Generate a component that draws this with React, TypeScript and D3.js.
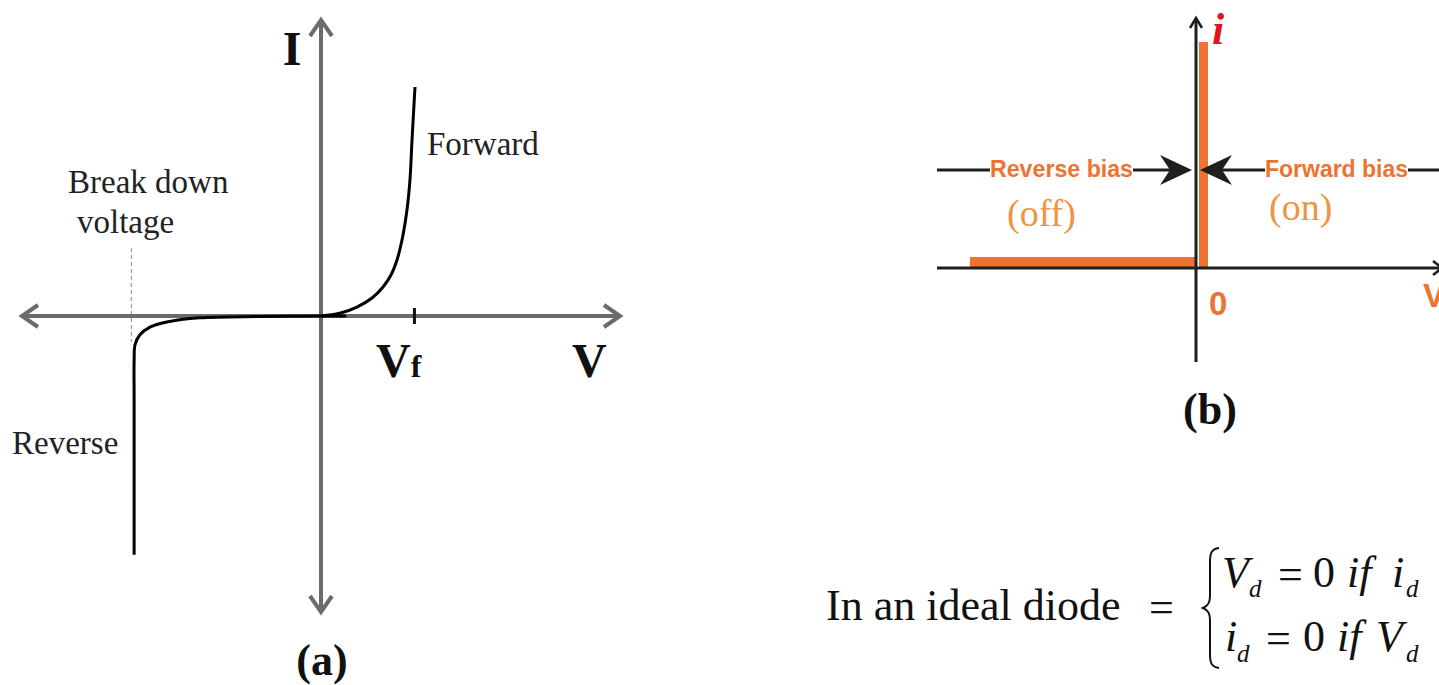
import React from "react";
import * as d3 from "d3";

// (a) practical diode I–V curve, in units of the forward voltage Vf
const FWD_V = [0, 0.2, 0.385, 0.546, 0.664, 0.749, 0.813, 0.867, 0.92, 0.952, 0.974, 1.006];
const FWD_I = [0, 0.03, 0.097, 0.195, 0.314, 0.443, 0.605, 0.822, 1.146, 1.47, 1.9, 2.476];
const REV_V = [0.27, 0, -0.65, -1.3, -1.65, -1.83, -1.94, -1.99, -2.0, -2.0, -2.0];
const REV_I = [0, 0, -0.005, -0.02, -0.065, -0.12, -0.205, -0.31, -0.48, -0.9, -2.58];
const VF = 1.0;
const BREAKDOWN_V = -2.03;

// (b) ideal diode characteristic
const IDEAL_OFF_V = [-0.873, 0];
const IDEAL_ON_I = [0, 1];

const W = 1439;
const H = 685;

const SERIF = "'Liberation Serif', 'Times New Roman', serif";
const SANS = "'Liberation Sans', Arial, sans-serif";
const GREY = "#6b6b6b";
const INK = "#1e1e1e";
const ORANGE = "#ec7332";
const ORANGE_LIGHT = "#ee9445";

function Chevron({ x, y, angle, color, w }: { x: number; y: number; angle: number; color: string; w: number }) {
  // open arrowhead pointing along `angle` (degrees), tip at (x, y)
  return (
    <path
      d="M -16 -11 L 0 0 L -16 11"
      transform={`translate(${x},${y}) rotate(${angle})`}
      fill="none"
      stroke={color}
      strokeWidth={w}
      strokeLinejoin="miter"
    />
  );
}

export default function App() {
  // panel (a) scales
  const xa = d3.scaleLinear().domain([-3.2, 3.2]).range([22, 620]);
  const ya = d3.scaleLinear().domain([-3.2, 3.2]).range([612, 20]);
  const line = d3
    .line<[number, number]>()
    .x((d) => xa(d[0]))
    .y((d) => ya(d[1]))
    .curve(d3.curveCatmullRom.alpha(0.5));
  const fwd = FWD_V.map((v, i) => [v, FWD_I[i]] as [number, number]);
  const rev = REV_V.map((v, i) => [v, REV_I[i]] as [number, number]);

  // panel (b) scales
  const xb = d3.scaleLinear().domain([-1, 0, 1]).range([937, 1196, 1455]);
  const yb = d3.scaleLinear().domain([-0.416, 0, 1]).range([362, 268, 42]);

  const ox = xa(0);
  const oy = ya(0);
  const bx = xb(0);
  const by = yb(0);

  return (
    <svg
      width={W}
      height={H}
      viewBox={`0 0 ${W} ${H}`}
      style={{ position: "absolute", left: 0, top: 0, background: "#fff" }}
    >
      <rect width={W} height={H} fill="#fff" />

      {/* ---------- (a) ---------- */}
      <line x1={xa(BREAKDOWN_V)} x2={xa(BREAKDOWN_V)} y1={248} y2={ya(-0.28)} stroke="#8a8a8a" strokeWidth={1} strokeDasharray="4 3" />
      <line x1={xa(-3.2) + 2} x2={xa(3.2) - 2} y1={oy} y2={oy} stroke={GREY} strokeWidth={4} />
      <line x1={ox} x2={ox} y1={ya(3.2) + 2} y2={ya(-3.2) - 2} stroke={GREY} strokeWidth={4} />
      <Chevron x={xa(3.2)} y={oy} angle={0} color={GREY} w={4} />
      <Chevron x={xa(-3.2)} y={oy} angle={180} color={GREY} w={4} />
      <Chevron x={ox} y={ya(3.2)} angle={-90} color={GREY} w={4} />
      <Chevron x={ox} y={ya(-3.2)} angle={90} color={GREY} w={4} />
      <line x1={xa(VF)} x2={xa(VF)} y1={oy - 8} y2={oy + 8} stroke="#111" strokeWidth={3} />

      <path d={line(rev) || ""} fill="none" stroke="#000" strokeWidth={3} />
      <path d={line(fwd) || ""} fill="none" stroke="#000" strokeWidth={3} />

      <text x={292} y={65} fontFamily={SERIF} fontWeight="bold" fontSize={48} textAnchor="middle" fill="#111">I</text>
      <text x={427} y={155} fontFamily={SERIF} fontSize={33} fill="#222">Forward</text>
      <text x={68} y={193} fontFamily={SERIF} fontSize={33} fill="#222">Break down</text>
      <text x={77} y={233} fontFamily={SERIF} fontSize={33} fill="#222">voltage</text>
      <text x={12} y={454} fontFamily={SERIF} fontSize={33} fill="#222">Reverse</text>
      <text x={376} y={377} fontFamily={SERIF} fontWeight="bold" fontSize={48} fill="#111">
        V<tspan fontSize={32}>f</tspan>
      </text>
      <text x={572} y={377} fontFamily={SERIF} fontWeight="bold" fontSize={48} fill="#111">V</text>
      <text x={322} y={675} fontFamily={SERIF} fontWeight="bold" fontSize={44} textAnchor="middle" fill="#111">(a)</text>

      {/* ---------- (b) ---------- */}
      <rect x={xb(IDEAL_OFF_V[0])} y={by - 11} width={xb(IDEAL_OFF_V[1]) - xb(IDEAL_OFF_V[0])} height={10} fill={ORANGE} />
      <rect x={bx + 3} y={yb(IDEAL_ON_I[1])} width={9} height={yb(IDEAL_ON_I[0]) - yb(IDEAL_ON_I[1])} fill={ORANGE} />

      <line x1={xb(-1)} x2={W + 4} y1={by} y2={by} stroke={INK} strokeWidth={3} />
      <line x1={bx} x2={bx} y1={19} y2={yb(-0.416)} stroke={INK} strokeWidth={3} />
      <path d={`M ${bx - 6} 28 L ${bx} 18 L ${bx + 6} 28`} fill="none" stroke={INK} strokeWidth={2.5} />
      <path d={`M ${W - 6} ${by - 7} L ${W + 3} ${by} L ${W - 6} ${by + 7}`} fill="none" stroke={INK} strokeWidth={2.5} />

      {/* bias region markers */}
      <line x1={937} x2={990} y1={170} y2={170} stroke={INK} strokeWidth={3} />
      <line x1={1133} x2={1172} y1={170} y2={170} stroke={INK} strokeWidth={3} />
      <path d={`M ${bx - 4} 170 L ${bx - 36} 155 L ${bx - 26} 170 L ${bx - 36} 185 Z`} fill={INK} />
      <path d={`M ${bx + 4} 170 L ${bx + 36} 155 L ${bx + 26} 170 L ${bx + 36} 185 Z`} fill={INK} />
      <line x1={1220} x2={1265} y1={170} y2={170} stroke={INK} strokeWidth={3} />
      <line x1={1408} x2={W} y1={170} y2={170} stroke={INK} strokeWidth={3} />
      <text x={990} y={177} fontFamily={SANS} fontWeight="bold" fontSize={23} textLength={143} lengthAdjust="spacingAndGlyphs" fill={ORANGE}>Reverse bias</text>
      <text x={1265} y={177} fontFamily={SANS} fontWeight="bold" fontSize={23} textLength={143} lengthAdjust="spacingAndGlyphs" fill={ORANGE}>Forward bias</text>
      <text x={1007} y={226} fontFamily={SERIF} fontSize={38} fill={ORANGE_LIGHT}>(off)</text>
      <text x={1269} y={220} fontFamily={SERIF} fontSize={38} fill={ORANGE_LIGHT}>(on)</text>
      <text x={1209} y={315} fontFamily={SANS} fontWeight="bold" fontSize={33} fill={ORANGE}>0</text>
      <text x={1423} y={307} fontFamily={SANS} fontWeight="bold" fontSize={33} fill={ORANGE}>V</text>
      <text x={1212} y={44} fontFamily={SERIF} fontWeight="bold" fontStyle="italic" fontSize={44} fill="#e2131f">i</text>
      <text x={1210} y={424} fontFamily={SERIF} fontWeight="bold" fontSize={44} textAnchor="middle" fill="#111">(b)</text>

      {/* ideal diode definition */}
      <text x={826} y={620} fontFamily={SERIF} fontSize={44} fill="#111">In an ideal diode</text>
      <text x={1149} y={622} fontFamily={SERIF} fontSize={44} fill="#111">=</text>
      <path
        d="M 1219 548 C 1211 549 1210 554 1210 562 L 1210 596 C 1210 603 1208 606 1203 608 C 1208 610 1210 613 1210 620 L 1210 654 C 1210 662 1211 667 1219 668"
        fill="none"
        stroke="#111"
        strokeWidth={2}
      />
      <g fontFamily={SERIF} fontSize={44} fill="#111">
        <text x={1222} y={587} fontStyle="italic">V</text>
        <text x={1249} y={597} fontStyle="italic" fontSize={25}>d</text>
        <text x={1278} y={589}>=</text>
        <text x={1313} y={587}>0</text>
        <text x={1347} y={587} fontStyle="italic">if</text>
        <text x={1392} y={587} fontStyle="italic">i</text>
        <text x={1406} y={597} fontStyle="italic" fontSize={25}>d</text>

        <text x={1225} y={651} fontStyle="italic">i</text>
        <text x={1237} y={662} fontStyle="italic" fontSize={25}>d</text>
        <text x={1266} y={653}>=</text>
        <text x={1303} y={651}>0</text>
        <text x={1337} y={651} fontStyle="italic">if</text>
        <text x={1376} y={651} fontStyle="italic">V</text>
        <text x={1406} y={662} fontStyle="italic" fontSize={25}>d</text>
      </g>
    </svg>
  );
}
